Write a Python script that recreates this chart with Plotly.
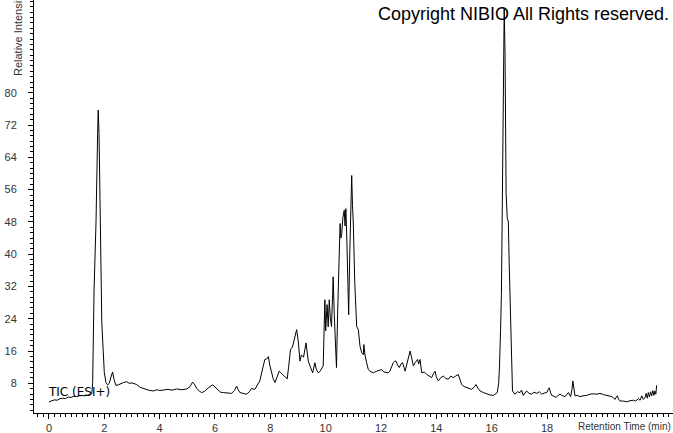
import plotly.graph_objects as go

# Retention time (min) and relative intensity
time_min = [
    0.00, 0.10, 0.20, 0.30, 0.40, 0.50, 0.60, 0.70, 0.80, 0.90, 1.00, 1.10, 1.20, 1.30, 1.40, 1.50,
    1.55, 1.58, 1.63, 1.70, 1.76, 1.78, 1.81, 1.85, 1.91, 2.00, 2.06, 2.12, 2.18, 2.25, 2.30, 2.35,
    2.42, 2.50, 2.60, 2.70, 2.81, 2.90, 3.00, 3.10, 3.17, 3.30, 3.40, 3.47, 3.60, 3.77, 3.90, 4.00,
    4.13, 4.30, 4.45, 4.61, 4.80, 4.98, 5.10, 5.19, 5.27, 5.34, 5.45, 5.52, 5.62, 5.70, 5.82, 5.92,
    6.02, 6.12, 6.20, 6.30, 6.45, 6.60, 6.70, 6.78, 6.84, 6.90, 7.02, 7.14, 7.24, 7.32, 7.44, 7.53,
    7.62, 7.70, 7.80, 7.86, 7.93, 7.98, 8.05, 8.10, 8.17, 8.24, 8.32, 8.38, 8.44, 8.52, 8.61, 8.66,
    8.73, 8.80, 8.86, 8.95, 9.01, 9.07, 9.12, 9.20, 9.29, 9.37, 9.45, 9.53, 9.61, 9.66, 9.73, 9.80,
    9.91, 9.97, 10.00, 10.05, 10.09, 10.13, 10.17, 10.21, 10.25, 10.27, 10.31, 10.36, 10.39, 10.43,
    10.48, 10.52, 10.55, 10.58, 10.62, 10.67, 10.70, 10.73, 10.77, 10.80, 10.83, 10.87, 10.91, 10.94,
    10.97, 11.00, 11.05, 11.09, 11.12, 11.18, 11.24, 11.30, 11.36, 11.38, 11.42, 11.48, 11.54, 11.60,
    11.72, 11.84, 11.96, 12.02, 12.10, 12.20, 12.26, 12.32, 12.44, 12.50, 12.54, 12.60, 12.66, 12.72,
    12.78, 12.87, 12.92, 12.98, 13.05, 13.10, 13.17, 13.23, 13.32, 13.36, 13.41, 13.47, 13.56, 13.65,
    13.74, 13.83, 13.90, 13.95, 14.00, 14.07, 14.16, 14.25, 14.34, 14.43, 14.52, 14.61, 14.70, 14.79,
    14.85, 14.91, 15.00, 15.09, 15.18, 15.27, 15.36, 15.43, 15.50, 15.58, 15.70, 15.82, 15.94, 16.06,
    16.14, 16.20, 16.25, 16.28, 16.32, 16.35, 16.40, 16.45, 16.48, 16.52, 16.56, 16.60, 16.63, 16.67,
    16.72, 16.75, 16.84, 16.93, 17.02, 17.08, 17.14, 17.20, 17.26, 17.35, 17.44, 17.53, 17.63, 17.72,
    17.81, 17.90, 17.99, 18.04, 18.08, 18.12, 18.17, 18.25, 18.32, 18.40, 18.47, 18.56, 18.65, 18.72,
    18.77, 18.85, 18.90, 18.93, 18.97, 19.01, 19.10, 19.19, 19.30, 19.43, 19.55, 19.67, 19.80, 19.91,
    20.04, 20.16, 20.25, 20.34, 20.40, 20.46, 20.50, 20.54, 20.58, 20.64, 20.76, 20.88, 21.00, 21.12,
    21.20, 21.30, 21.36, 21.42, 21.48, 21.54, 21.58, 21.62, 21.66, 21.70, 21.74, 21.78, 21.82, 21.86,
    21.89, 21.93, 21.96,
]
rel_intensity = [
    3.4, 3.6, 3.9, 3.8, 4.2, 4.3, 4.2, 4.6, 4.5, 4.8, 4.7, 4.9, 5.0, 4.9, 5.1, 5.2,
    5.5, 8.2, 31.0, 47.7, 70.0, 75.7, 70.0, 47.7, 23.0, 10.7, 8.2, 7.6, 8.0, 9.8, 10.8, 9.0,
    7.5, 7.6, 8.0, 8.2, 8.4, 8.0, 8.1, 7.8, 7.7, 7.0, 6.8, 6.5, 6.3, 6.1, 6.4, 6.2,
    6.3, 6.5, 6.3, 6.6, 6.4, 6.6, 7.2, 8.3, 7.6, 6.7, 6.0, 5.7, 6.0, 6.5, 7.2, 7.6,
    7.0, 6.5, 5.8, 5.7, 5.6, 5.5, 6.2, 7.3, 6.4, 5.7, 5.5, 5.3, 5.9, 6.7, 6.5, 7.4,
    8.6, 11.0, 13.9, 14.0, 14.6, 12.5, 10.6, 9.2, 8.2, 9.5, 11.0, 10.6, 10.2, 9.6, 9.1, 12.0,
    16.4, 17.0, 18.5, 21.3, 18.4, 13.5, 15.0, 14.5, 18.0, 13.5, 12.0, 10.6, 13.1, 11.5, 10.6, 11.0,
    12.3, 28.7, 21.0, 27.5, 22.0, 28.7, 24.0, 22.1, 30.0, 34.4, 25.0, 14.0, 11.9, 25.0,
    40.0, 47.6, 44.0, 45.1, 49.0, 50.9, 47.0, 51.3, 42.0, 30.0, 25.0, 40.0, 55.0, 59.5,
    52.0, 47.2, 33.0, 24.0, 22.1, 21.3, 17.2, 15.6, 15.1, 17.6, 15.0, 13.1, 11.4, 11.0,
    10.6, 11.0, 11.4, 11.4, 10.8, 10.6, 10.6, 11.0, 13.1, 13.5, 13.5, 12.5, 11.9, 12.8,
    13.1, 11.0, 12.5, 14.5, 16.0, 14.5, 12.3, 13.1, 13.9, 12.8, 13.9, 10.6, 10.8, 10.2,
    9.8, 9.4, 10.5, 11.0, 9.5, 8.6, 9.4, 9.8, 9.2, 9.0, 9.8, 9.4, 9.8, 10.2,
    9.0, 7.7, 7.2, 6.9, 6.8, 6.5, 7.0, 7.7, 6.8, 6.1, 5.7, 5.3, 5.1, 5.0,
    5.3, 5.7, 8.0, 12.0, 21.3, 30.0, 65.0, 101.0, 90.0, 55.0, 49.0, 48.0, 38.0, 25.0,
    12.0, 6.1, 5.3, 5.9, 5.7, 6.3, 5.0, 5.6, 6.1, 5.5, 5.3, 5.8, 5.5, 5.9,
    5.3, 5.6, 5.7, 6.5, 6.9, 5.8, 5.0, 4.8, 4.5, 5.0, 5.3, 4.9, 4.7, 5.3,
    5.7, 4.7, 6.5, 8.6, 6.0, 4.9, 5.0, 4.7, 4.9, 5.0, 5.3, 5.4, 5.3, 5.5,
    5.2, 5.0, 4.9, 4.7, 4.4, 4.0, 4.6, 4.9, 4.1, 3.6, 3.6, 3.4, 3.7, 3.8,
    3.6, 4.2, 3.8, 4.9, 4.0, 4.5, 5.5, 4.3, 5.7, 4.6, 5.9, 4.9, 6.2, 5.0,
    6.1, 5.3, 7.5,
]

x_ticks = [0, 2, 4, 6, 8, 10, 12, 14, 16, 18]
y_ticks = [8, 16, 24, 32, 40, 48, 56, 64, 72, 80]

TICK_FONT = dict(family="Liberation Sans, Arial, sans-serif", size=11, color="#333333")

fig = go.Figure()
fig.add_trace(go.Scatter(
    x=time_min, y=rel_intensity, mode="lines",
    line=dict(color="black", width=1), showlegend=False, hoverinfo="skip",
))

fig.update_layout(
    width=673, height=433,
    margin=dict(l=34, r=0, t=0, b=20),
    paper_bgcolor="white", plot_bgcolor="white",
    xaxis=dict(
        range=[-0.54, 22.55], tickvals=x_ticks, ticktext=[str(v) for v in x_ticks],
        showgrid=False, zeroline=False, showline=True, linecolor="black", linewidth=1,
        ticks="outside", ticklen=5, tickcolor="black", tickfont=TICK_FONT,
        minor=dict(dtick=0.2, tick0=0, ticks="outside", ticklen=3, tickcolor="black", showgrid=False),
        automargin=False,
    ),
    yaxis=dict(
        range=[0.64, 103.0], tickvals=y_ticks, ticktext=[str(v) for v in y_ticks],
        showgrid=False, zeroline=False, showline=True, linecolor="black", linewidth=1,
        ticks="outside", ticklen=5, tickcolor="black", tickfont=TICK_FONT,
        ticklabelstandoff=9,
        minor=dict(dtick=8 / 6, tick0=0, ticks="outside", ticklen=3, tickcolor="black", showgrid=False),
        automargin=False,
    ),
    annotations=[
        dict(text="Relative Intensity", textangle=-90, xref="paper", yref="paper",
             x=-0.025, y=(413 - 78) / 413, xanchor="center", yanchor="bottom",
             showarrow=False, font=TICK_FONT),
        dict(text="Retention Time (min)", xref="paper", yref="paper",
             x=1.0, y=-0.033, xanchor="right", yanchor="middle",
             showarrow=False, font=dict(family="Liberation Sans, Arial, sans-serif", size=10, color="#333333")),
        dict(text="Copyright NIBIO All Rights reserved.", xref="paper", yref="paper",
             x=(376 - 34) / 639, y=(413 - 14) / 413, xanchor="left", yanchor="middle",
             showarrow=False, font=dict(family="Liberation Sans, Arial, sans-serif", size=18, color="black")),
        dict(text="TIC (ESI+)", xref="x", yref="y",
             x=-0.1, y=5.8, xanchor="left", yanchor="middle",
             showarrow=False, font=dict(family="DejaVu Sans, Tahoma, sans-serif", size=12, color="black")),
    ],
)

fig.write_html(
    "out.html",
    config={"displayModeBar": False},
    post_script="document.body.style.margin='0';document.body.style.overflow='hidden';",
)
